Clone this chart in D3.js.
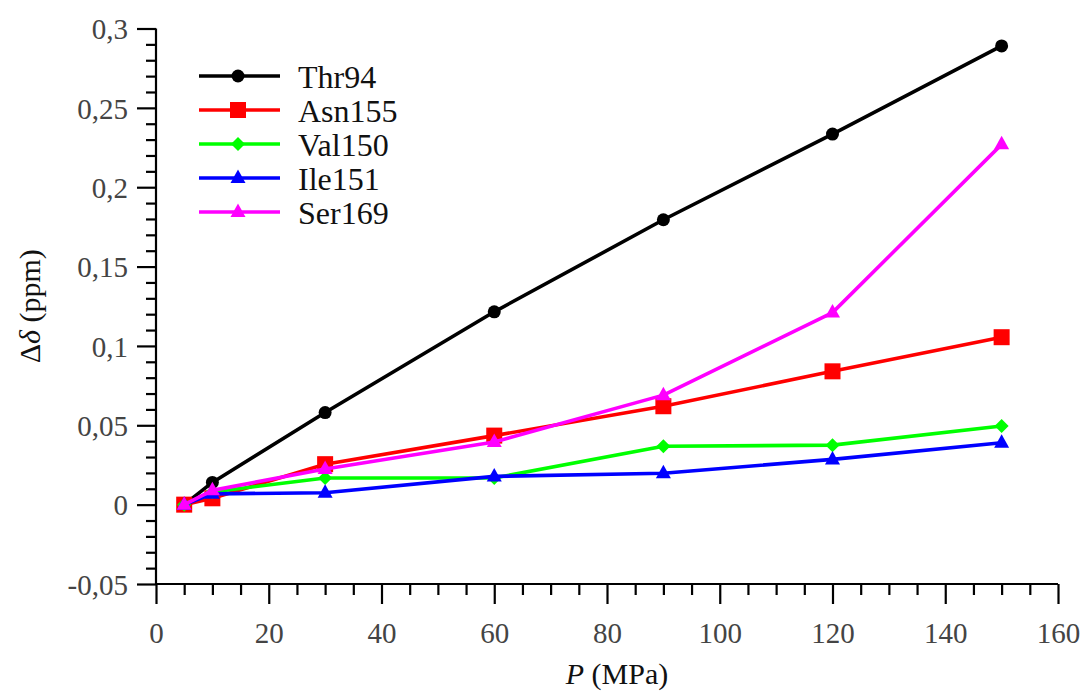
<!DOCTYPE html>
<html><head><meta charset="utf-8">
<script src="https://cdn.jsdelivr.net/npm/d3@7"></script>
<style>body{margin:0;background:#fff}svg{display:block}
svg text{font-family:"Liberation Serif","DejaVu Serif","Times New Roman",Times,serif !important;}
</style>
</head><body>
<svg id="c" width="1082" height="691"></svg>
<script>
const pressures = [5, 10, 30, 60, 90, 120, 150];
const thr94  = [0, 0.014, 0.058, 0.1215, 0.1795, 0.2335, 0.289];
const asn155 = [0, 0.004, 0.0255, 0.0435, 0.062, 0.084, 0.1055];
const val150 = [0, 0.008, 0.0168, 0.0168, 0.0368, 0.0375, 0.0495];
const ile151 = [0, 0.0068, 0.0075, 0.0178, 0.0198, 0.0285, 0.039];
const ser169 = [0, 0.009, 0.0225, 0.0395, 0.069, 0.121, 0.227];
const seriesNames = ["Thr94", "Asn155", "Val150", "Ile151", "Ser169"];
const seriesValues = [thr94, asn155, val150, ile151, ser169];
const seriesColors = ["#000000", "#ff0000", "#00ff00", "#0000ff", "#ff00ff"];
const seriesMarkers = ["circle", "square", "diamond", "triangle", "triangle"];
const xTicks = [0, 20, 40, 60, 80, 100, 120, 140, 160];
const yTicks = [-0.05, 0, 0.05, 0.1, 0.15, 0.2, 0.25, 0.3];
const yTickLabels = ["-0,05", "0", "0,05", "0,1", "0,15", "0,2", "0,25", "0,3"];

const svg = d3.select("#c");
const L = 156, R = 1058, T = 28.5, B = 584;
const x = d3.scaleLinear().domain([0, 160]).range([L, R]);
const y = d3.scaleLinear().domain([-0.05, 0.3]).range([B, T]);

const xAxis = d3.axisBottom(x).tickValues(xTicks).tickSize(20).tickFormat(d => d);
const xMinor = d3.axisBottom(x).tickValues(d3.range(0, 161, 5).filter(v => v % 20 !== 0)).tickSize(11).tickFormat("");
const yAxis = d3.axisLeft(y).tickValues(yTicks).tickSize(19).tickFormat((d, i) => yTickLabels[i]);
const yMinor = d3.axisLeft(y).tickValues(d3.range(-5, 31, 1).map(v => v / 100).filter(v => Math.round(v * 100) % 5 !== 0)).tickSize(10).tickFormat("");

function styleAxis(g) {
  g.attr("font-family", null).attr("font-size", null);
  g.selectAll(".domain").attr("stroke", "#000").attr("stroke-width", 2.2);
  g.selectAll(".tick line").attr("stroke", "#000").attr("stroke-width", 2.2);
  g.selectAll(".tick text").attr("fill", "#444").style("font-size", "29px");
}
const gx = svg.append("g").attr("transform", `translate(0,${B})`).call(xAxis).call(styleAxis);
gx.selectAll(".tick text").attr("y", 0).attr("dy", 0).attr("transform", "translate(0,59)");
gx.select(".domain").attr("d", `M${L},0H${R}`);
svg.append("g").attr("transform", `translate(0,${B})`).call(xMinor).call(styleAxis).select(".domain").remove();
const gy = svg.append("g").attr("transform", `translate(${L},0)`).call(yAxis).call(styleAxis);
gy.selectAll(".tick text").attr("x", -28).attr("dy", "0.35em");
gy.select(".domain").attr("d", `M0,${B}V${T}`);
svg.append("g").attr("transform", `translate(${L},0)`).call(yMinor).call(styleAxis).select(".domain").remove();

svg.append("text").attr("transform", `translate(40,${(T + B) / 2}) rotate(-90)`)
  .attr("text-anchor", "middle").attr("fill", "#111").style("font-size", "30px")
  .html("Δ<tspan font-style='italic'>δ</tspan> (ppm)");
svg.append("text").attr("x", (L + R) / 2 + 10).attr("y", 684)
  .attr("text-anchor", "middle").attr("fill", "#111").style("font-size", "30px")
  .html("<tspan font-style='italic'>P</tspan> (MPa)");

function marker(g, type, color) {
  if (type === "circle") g.append("circle").attr("r", 6.5).attr("fill", color);
  else if (type === "square") g.append("rect").attr("x", -8).attr("y", -8).attr("width", 16).attr("height", 16).attr("fill", color);
  else if (type === "diamond") g.append("path").attr("d", "M0,-7L7,0L0,7L-7,0Z").attr("fill", color);
  else g.append("path").attr("d", "M0,-8.5L7.5,5L-7.5,5Z").attr("fill", color);
}

const line = d3.line().x((d, i) => x(pressures[i])).y(d => y(d));
seriesValues.forEach((vals, s) => {
  svg.append("path").datum(vals).attr("d", line).attr("fill", "none")
    .attr("stroke", seriesColors[s]).attr("stroke-width", 3.6).attr("stroke-linejoin", "round");
  vals.forEach((v, i) => {
    const g = svg.append("g").attr("transform", `translate(${x(pressures[i])},${y(v)})`);
    marker(g, seriesMarkers[s], seriesColors[s]);
  });
});

seriesNames.forEach((n, s) => {
  const ly = 76 + s * 34;
  svg.append("line").attr("x1", 199).attr("x2", 280).attr("y1", ly).attr("y2", ly)
    .attr("stroke", seriesColors[s]).attr("stroke-width", 3.6);
  const g = svg.append("g").attr("transform", `translate(238,${ly})`);
  marker(g, seriesMarkers[s], seriesColors[s]);
  svg.append("text").attr("x", 298).attr("y", ly).attr("dy", "0.36em").attr("fill", "#111")
    .style("font-size", "32px").text(n);
});
</script>
</body></html>
